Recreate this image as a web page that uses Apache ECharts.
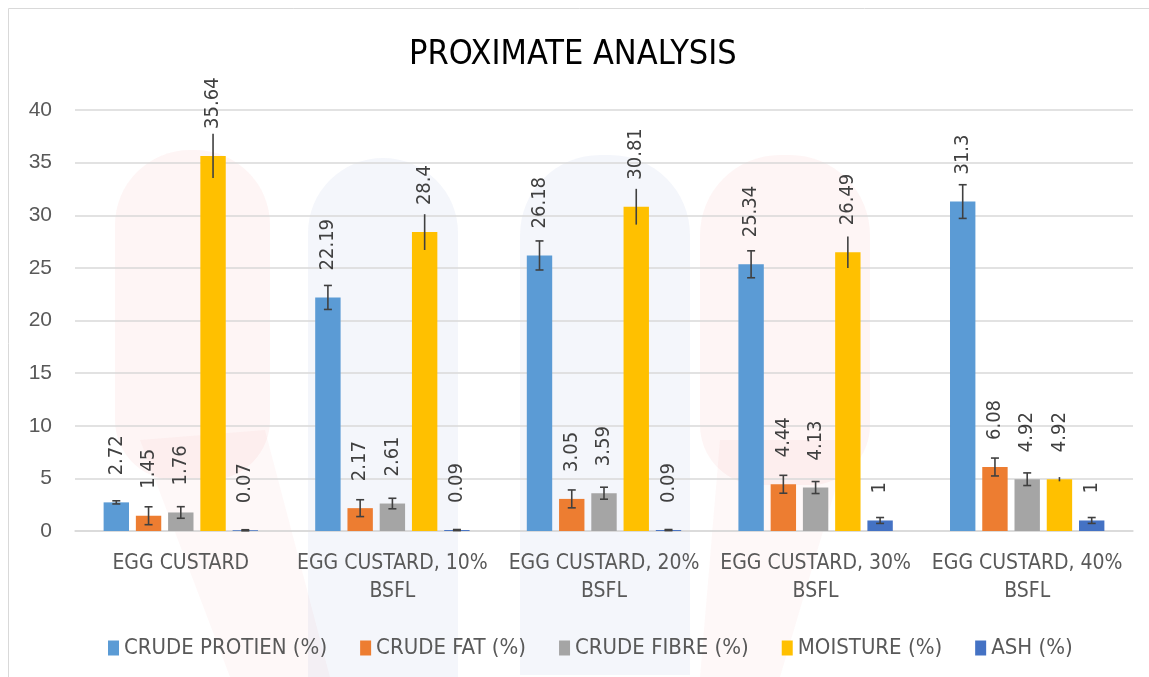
<!DOCTYPE html>
<html>
<head>
<meta charset="utf-8">
<script src="https://cdn.jsdelivr.net/npm/echarts@6/dist/echarts.min.js"></script>
<style>html,body{margin:0;padding:0;background:#fff}#c{width:1149px;height:677px}</style>
</head>
<body>
<div id="c"></div>
<script>
const categories = ['EGG CUSTARD', 'EGG CUSTARD, 10%\nBSFL', 'EGG CUSTARD, 20%\nBSFL', 'EGG CUSTARD, 30%\nBSFL', 'EGG CUSTARD, 40%\nBSFL'];
const seriesNames = ['CRUDE PROTIEN (%)', 'CRUDE FAT (%)', 'CRUDE FIBRE (%)', 'MOISTURE (%)', 'ASH (%)'];
const protein = [2.72, 22.19, 26.18, 25.34, 31.3];
const fat = [1.45, 2.17, 3.05, 4.44, 6.08];
const fibre = [1.76, 2.61, 3.59, 4.13, 4.92];
const moisture = [35.64, 28.4, 30.81, 26.49, 4.92];
const ash = [0.07, 0.09, 0.09, 1, 1];
const proteinErr = [0.15, 1.14, 1.38, 1.28, 1.6];
const fatErr = [0.85, 0.8, 0.85, 0.85, 0.85];
const fibreErr = [0.55, 0.5, 0.57, 0.57, 0.6];
const moistureErr = [2.1, 1.7, 1.7, 1.5, 0.2];
const ashErr = [0.05, 0.05, 0.05, 0.28, 0.28];
const yTicks = [0, 5, 10, 15, 20, 25, 30, 35, 40];

const colors = ['#5B9BD5', '#ED7D31', '#A5A5A5', '#FFC000', '#4472C4'];
const values = [protein, fat, fibre, moisture, ash];
const errs = [proteinErr, fatErr, fibreErr, moistureErr, ashErr];
const caps = [true, true, true, false, true];
const BW = 0.12, BG = 0.27;

const narrow = '"DejaVu Sans Condensed", "Liberation Sans Narrow", "Liberation Sans", sans-serif';

function barSeries(i) {
  return {
    name: seriesNames[i], type: 'bar', data: values[i],
    barWidth: (BW * 100) + '%', barGap: (BG * 100) + '%',
    itemStyle: { color: colors[i] },
    label: {
      show: true, position: 'top', rotate: 90, align: 'left', verticalAlign: 'middle',
      distance: 27, color: '#404040', fontFamily: narrow, fontSize: 20
    }
  };
}
function errSeries(i) {
  return {
    type: 'custom', name: seriesNames[i] + ' err', z: 5, silent: true,
    data: values[i].map((v, k) => [k, v, errs[i][k]]),
    renderItem: function (params, api) {
      const ci = api.value(0), v = api.value(1), e = api.value(2);
      const band = api.size([1, 0])[0];
      const bw = band * BW, gap = bw * BG;
      const off = (i - 2) * (bw + gap);
      const t = api.coord([ci, v + e]);
      const b = api.coord([ci, v - e]);
      const x = t[0] + off;
      const st = { stroke: '#404040', lineWidth: 1.6 };
      const ch = [{ type: 'line', shape: { x1: x, y1: t[1], x2: x, y2: b[1] }, style: st }];
      if (caps[i]) {
        ch.push({ type: 'line', shape: { x1: x - 4, y1: t[1], x2: x + 4, y2: t[1] }, style: st });
        ch.push({ type: 'line', shape: { x1: x - 4, y1: b[1], x2: x + 4, y2: b[1] }, style: st });
      }
      return { type: 'group', children: ch };
    }
  };
}

const chart = echarts.init(document.getElementById('c'));
const series = [];
for (let i = 0; i < 5; i++) series.push(barSeries(i));
for (let i = 0; i < 5; i++) series.push(errSeries(i));

const red = 'rgba(232,60,60,0.05)', redLight = 'rgba(232,60,60,0.035)', blue = 'rgba(60,110,190,0.06)';
chart.setOption({
  animation: false,
  title: {
    text: 'PROXIMATE ANALYSIS', left: 404, top: 33,
    textStyle: { fontFamily: narrow, fontSize: 34, fontWeight: 'normal', color: '#000' }
  },
  graphic: [
    { type: 'rect', z: -10, shape: { x: 8.5, y: 8.5, width: 1160, height: 700 }, style: { fill: 'none', stroke: '#d9d9d9', lineWidth: 1 } },
    { type: 'rect', z: -9, shape: { x: 115, y: 150, width: 155, height: 330, r: [75, 75, 60, 60] }, style: { fill: red } },
    { type: 'polygon', z: -9, shape: { points: [[140, 440], [265, 430], [330, 677], [230, 677]] }, style: { fill: redLight } },
    { type: 'rect', z: -9, shape: { x: 308, y: 158, width: 150, height: 520, r: [75, 75, 0, 0] }, style: { fill: blue } },
    { type: 'rect', z: -9, shape: { x: 520, y: 155, width: 170, height: 520, r: [80, 80, 0, 0] }, style: { fill: blue } },
    { type: 'rect', z: -9, shape: { x: 700, y: 155, width: 170, height: 330, r: [80, 80, 60, 60] }, style: { fill: red } },
    { type: 'polygon', z: -9, shape: { points: [[720, 440], [850, 440], [780, 677], [700, 677]] }, style: { fill: redLight } }
  ],
  legend: {
    data: seriesNames, left: 103, top: 632, itemWidth: 11, itemHeight: 15, itemGap: 33,
    icon: 'rect',
    textStyle: { fontFamily: narrow, fontSize: 22, color: '#595959' }
  },
  grid: { left: 75, right: 16, top: 110, bottom: 146, containLabel: false },
  xAxis: {
    type: 'category', data: categories,
    axisLine: { lineStyle: { color: '#d9d9d9', width: 1.5 } },
    axisTick: { show: false },
    axisLabel: { interval: 0, margin: 19, lineHeight: 28, fontFamily: narrow, fontSize: 21, color: '#595959' }
  },
  yAxis: {
    type: 'value', min: yTicks[0], max: yTicks[yTicks.length - 1], interval: yTicks[1] - yTicks[0],
    axisLine: { show: false }, axisTick: { show: false },
    splitLine: { lineStyle: { color: '#d9d9d9', width: 1.5 } },
    axisLabel: { margin: 23, fontFamily: '"Liberation Sans", sans-serif', fontSize: 21, color: '#595959' }
  },
  series: series
});
</script>
</body>
</html>
